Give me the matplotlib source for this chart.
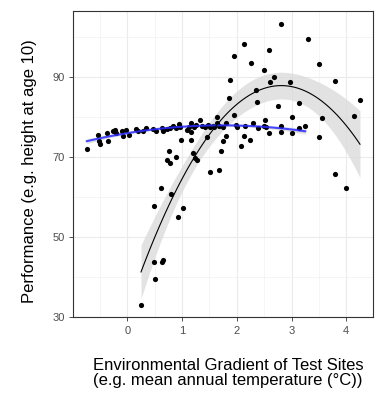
import numpy as np
import matplotlib
matplotlib.use("Agg")
import matplotlib.pyplot as plt
from matplotlib.ticker import MultipleLocator

plt.rcParams['font.family'] = ['Liberation Sans', 'DejaVu Sans']

# group with a flat response (blue smooth)
flat_x = [-0.74, -0.53, -0.50, -0.52, -0.37, -0.36, -0.26, -0.23, -0.21, -0.10, -0.07, -0.02,
          0.03, 0.16, 0.20, 0.28, 0.34, 0.46, 0.52, 0.63, 0.66, 0.72, 0.78, 0.84, 0.89, 0.95,
          0.96, 1.09, 1.13, 1.16, 1.17, 1.21, 1.26, 1.33, 1.36, 1.42, 1.48, 1.51, 1.56, 1.58,
          1.63, 1.67, 1.75, 1.80, 1.98, 2.00, 2.15, 2.29, 2.39, 2.50, 2.54, 2.58, 2.80, 2.80,
          3.00, 3.14, 3.25]
flat_y = [72.2, 75.6, 73.3, 74.0, 76.0, 74.1, 76.6, 76.8, 76.2, 76.7, 75.3, 76.9,
          75.6, 77.2, 76.6, 76.7, 77.3, 77.1, 76.6, 77.4, 76.6, 77.0, 77.3, 77.8, 77.3, 78.3,
          77.6, 76.8, 77.5, 78.5, 76.3, 77.5, 78.2, 79.3, 77.8, 77.5, 78.2, 77.6, 77.9, 77.5,
          78.5, 77.8, 77.6, 78.6, 78.0, 77.5, 77.8, 78.6, 77.4, 77.8, 77.5, 76.2, 77.9, 76.4,
          76.0, 77.4, 77.8]

# group with a curved response (black smooth)
curve_x = [0.25, 0.49, 0.51, 0.63, 0.65, 0.48, 0.61, 0.80, 0.93, 1.02, 0.72, 0.78, 0.89,
           0.77, 1.20, 1.27, 0.98, 1.16, 1.24, 1.45, 1.51, 1.67, 1.71, 1.74, 1.80, 2.13,
           2.24, 2.08, 1.63, 1.85, 1.88, 1.94, 1.945, 2.14, 2.26, 2.35, 2.37, 2.49, 2.51,
           2.58, 2.61, 2.68, 2.76, 2.81, 2.97, 3.00, 3.14, 3.30, 3.50, 3.50, 3.56, 3.79,
           3.80, 4.00, 4.14, 4.25]
curve_y = [33.0, 43.7, 39.6, 43.7, 44.4, 57.9, 62.4, 60.9, 55.1, 57.3, 69.3, 68.7, 70.1,
           71.7, 71.0, 69.3, 74.3, 74.3, 69.9, 75.2, 66.3, 66.8, 71.6, 74.2, 75.4, 75.4,
           74.3, 72.9, 80.2, 84.9, 89.3, 80.5, 95.3, 98.3, 93.5, 86.8, 83.8, 91.8, 79.3,
           96.8, 88.9, 90.2, 82.8, 103.3, 88.8, 80.1, 83.5, 99.7, 93.3, 75.0, 79.9, 89.1,
           65.8, 62.3, 80.3, 84.3]

x_ticks = [0, 1, 2, 3, 4]
y_ticks = [30, 50, 70, 90]


def quad_smooth(x, y, n=80):
    x = np.asarray(x); y = np.asarray(y)
    X = np.vander(x, 3)
    beta, *_ = np.linalg.lstsq(X, y, rcond=None)
    resid = y - X @ beta
    s2 = resid @ resid / (len(x) - 3)
    cov = s2 * np.linalg.inv(X.T @ X)
    xs = np.linspace(x.min(), x.max(), n)
    Xs = np.vander(xs, 3)
    fit = Xs @ beta
    se = np.sqrt(np.einsum('ij,jk,ik->i', Xs, cov, Xs))
    return xs, fit, fit - 2.0 * se, fit + 2.0 * se


fig = plt.figure(figsize=(3.75, 3.94), dpi=100)
ax = fig.add_axes([0.195, 0.195, 0.8, 0.777])

xs_c, fit_c, lo_c, hi_c = quad_smooth(curve_x, curve_y)
xs_f, fit_f, lo_f, hi_f = quad_smooth(flat_x, flat_y)

ax.fill_between(xs_c, lo_c, hi_c, color='#d9d9d9', alpha=0.75, lw=0, zorder=2)
ax.fill_between(xs_f, lo_f, hi_f, color='#d9d9d9', alpha=0.75, lw=0, zorder=2)
ax.scatter(flat_x, flat_y, s=14, color='black', lw=0, zorder=3)
ax.scatter(curve_x, curve_y, s=14, color='black', lw=0, zorder=3)
ax.plot(xs_f, fit_f, color='#2b2bff', lw=1.5, alpha=0.85, zorder=4)
ax.plot(xs_c, fit_c, color='black', lw=0.8, zorder=4)

ax.set_xlim(-0.99, 4.49)
ax.set_ylim(30, 106.6)
ax.set_xticks(x_ticks)
ax.set_yticks(y_ticks)
ax.xaxis.set_minor_locator(MultipleLocator(0.5))
ax.yaxis.set_minor_locator(MultipleLocator(10))
ax.grid(which='major', color='#ebebeb', lw=0.8, zorder=0)
ax.grid(which='minor', color='#f2f2f2', lw=0.5, zorder=0)
ax.set_axisbelow(True)
ax.tick_params(which='minor', length=0)
ax.tick_params(which='major', length=3, width=0.6, color='#333333',
               labelcolor='#4d4d4d', labelsize=8, pad=3)
for sp in ax.spines.values():
    sp.set_color('#333333')
    sp.set_linewidth(0.8)

# axis titles placed as in the reference
fig.text(228 / 375, 1 - 373 / 394,
         'Environmental Gradient of Test Sites\n(e.g. mean annual temperature (°C))',
         fontsize=12, ha='center', va='center', linespacing=1.0)
fig.text(30 / 375, 1 - 171 / 394, 'Performance (e.g. height at age 10)',
         fontsize=12, ha='center', va='center', rotation=90)

fig.savefig('out.png', dpi=100)
